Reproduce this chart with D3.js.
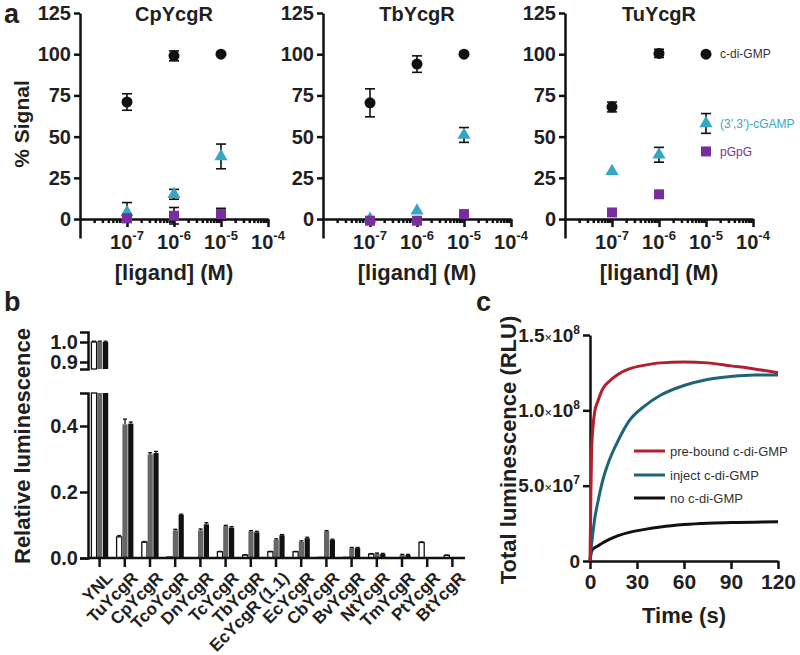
<!DOCTYPE html>
<html>
<head>
<meta charset="utf-8">
<script src="https://cdn.jsdelivr.net/npm/d3@7"></script>
<style>
  body { margin: 0; background: #fff; }
  svg text { font-family: "Liberation Sans", Arial, sans-serif; fill: #231f20; }
  .axis path, .axis line { stroke: #111; stroke-width: 2.5; }
  .axis text { font-weight: bold; font-size: 20px; fill: #231f20; }
</style>
</head>
<body>
<div id="fig"></div>
<script>
// ---------- panel a: % signal vs ligand concentration ----------
const concs = [1e-7, 1e-6, 1e-5];
const doseTitles = ['CpYcgR', 'TbYcgR', 'TuYcgR'];
const ligandNames = ['c-di-GMP', "(3',3')-cGAMP", 'pGpG'];

const cpDiGMP = [71, 99, 100],   cpDiGMPErr = [5, 3, 0];
const cpCGAMP = [4, 15, 38],     cpCGAMPErr = [6, 3, 7.5];
const cpPGPG  = [0.5, 2, 3],     cpPGPGErr  = [2, 5, 3.5];

const tbDiGMP = [70.5, 94, 100], tbDiGMPErr = [8.5, 5, 0];
const tbCGAMP = [0, 5, 51],      tbCGAMPErr = [0, 0, 4.5];
const tbPGPG  = [-1, -1, 3],     tbPGPGErr  = [0, 0, 0];

const tuDiGMP = [68, 100.5, 100], tuDiGMPErr = [3, 2.5, 0];
const tuCGAMP = [29, 39, 58],     tuCGAMPErr = [0, 4.5, 6];
const tuPGPG  = [4, 15, 41],      tuPGPGErr  = [0, 0, 0];

const signalTicks = [0, 25, 50, 75, 100, 125];
const decadeTicks = [1e-7, 1e-6, 1e-5, 1e-4];

// ---------- panel b: relative luminescence ----------
const strains = ['YNL', 'TuYcgR', 'CpYcgR', 'TcoYcgR', 'DnYcgR', 'TcYcgR', 'TbYcgR',
  'EcYcgR (1.1)', 'EcYcgR', 'CbYcgR', 'BvYcgR', 'NtYcgR', 'TmYcgR', 'PtYcgR', 'BtYcgR'];
const lumWhite = [1.0, 0.064, 0.048, 0.003, 0, 0.019, 0.009, 0.019, 0.019, 0.002, 0.002, 0.012, 0, 0.047, 0.008];
const lumGray  = [1.0, 0.405, 0.314, 0.084, 0.084, 0.097, 0.081, 0.055, 0.049, 0.081, 0.030, 0.013, 0.009, 0.001, 0];
const lumBlack = [1.0, 0.407, 0.318, 0.131, 0.102, 0.092, 0.078, 0.069, 0.060, 0.055, 0.030, 0.012, 0.009, 0.001, 0];
const errWhite = [0.004, 0.004, 0.002, 0, 0, 0.001, 0.001, 0.001, 0.001, 0, 0, 0.001, 0, 0.002, 0.001];
const errGray  = [0.004, 0.016, 0.005, 0.003, 0.004, 0.002, 0.002, 0.003, 0.003, 0.002, 0.002, 0.002, 0.002, 0, 0];
const errBlack = [0.004, 0.005, 0.005, 0.002, 0.005, 0.003, 0.003, 0.002, 0.003, 0.002, 0.002, 0.002, 0.002, 0, 0];
const lowTicks = [0, 0.2, 0.4];
const highTicks = [0.9, 1.0];

// ---------- panel c: luminescence time course ----------
const timeS      = [0, 0.5, 1, 2, 3, 5, 8, 12, 18, 25, 35, 45, 60, 75, 90, 105, 120];
const preBound   = [0, 4.0e7, 7.2e7, 9.0e7, 9.9e7, 1.06e8, 1.14e8, 1.19e8, 1.24e8, 1.275e8, 1.30e8, 1.315e8, 1.32e8, 1.315e8, 1.295e8, 1.275e8, 1.25e8];
const injectCdg  = [0, 6e6, 1.1e7, 2.0e7, 2.8e7, 3.9e7, 5.3e7, 6.6e7, 8.0e7, 9.3e7, 1.03e8, 1.10e8, 1.165e8, 1.205e8, 1.225e8, 1.235e8, 1.235e8];
const noCdg      = [0, 4e6, 6.5e6, 8e6, 8.8e6, 1.0e7, 1.2e7, 1.42e7, 1.68e7, 1.9e7, 2.1e7, 2.26e7, 2.42e7, 2.51e7, 2.55e7, 2.58e7, 2.6e7];
const timeTicks  = [0, 30, 60, 90, 120];
const lumTicks   = [0, 5e7, 1e8, 1.5e8];
const traceNames = ['pre-bound c-di-GMP', 'inject c-di-GMP', 'no c-di-GMP'];

const colDi = '#111', colCg = '#36a7c3', colPg = '#7a2e9e';
const colPre = '#b1202f', colInj = '#1e6478', colNo = '#111';

const svg = d3.select('#fig').append('svg')
  .attr('width', 800).attr('height', 655)
  .style('background', '#fff');

function panelLetter(x, y, s) {
  svg.append('text').attr('x', x).attr('y', y)
    .style('font-size', '27px').style('font-weight', 'bold').text(s);
}
panelLetter(4, 23, 'a');
panelLetter(4, 311, 'b');
panelLetter(476, 311, 'c');

// ---------- draw panel a ----------
function doseChart(x0, title, series) {
  const x = d3.scaleLog().domain([1e-8, 1e-4]).range([x0, x0 + 188]);
  const y = d3.scaleLinear().domain([-11.5, 125]).range([238, 13]);
  const g = svg.append('g');

  g.append('g').attr('class', 'axis')
    .attr('transform', `translate(${x0},0)`)
    .call(d3.axisLeft(y).tickValues(signalTicks).tickSize(6).tickPadding(3).tickSizeOuter(0));

  const minor = [];
  [1e-8, 1e-7, 1e-6, 1e-5].forEach(d => { for (let k = 2; k <= 9; k++) minor.push(d * k); });
  const y0 = y(0);
  g.append('g').attr('class', 'axis')
    .attr('transform', `translate(0,${y0})`)
    .call(d3.axisBottom(x).tickValues(minor).tickSize(4).tickFormat('').tickSizeOuter(0));
  const major = g.append('g').attr('class', 'axis')
    .attr('transform', `translate(0,${y0})`)
    .call(d3.axisBottom(x).tickValues(decadeTicks).tickSize(8).tickFormat('').tickSizeOuter(0));
  major.select('.domain').remove();

  decadeTicks.forEach(d => {
    const t = g.append('text').attr('x', x(d)).attr('y', 249)
      .attr('text-anchor', 'middle').style('font-weight', 'bold').style('font-size', '20px');
    t.append('tspan').text('10');
    t.append('tspan').attr('dy', -9).style('font-size', '13px').text('-' + Math.round(-Math.log10(d)));
  });

  g.append('text').attr('x', x0 + 94).attr('y', 280).attr('text-anchor', 'middle')
    .style('font-weight', 'bold').style('font-size', '22px').text('[ligand] (M)');
  g.append('text').attr('x', x0 + 94).attr('y', 21).attr('text-anchor', 'middle')
    .style('font-weight', 'bold').style('font-size', '20px').text(title);

  series.forEach(s => {
    concs.forEach((c, i) => {
      const cx = x(c), cy = y(s.vals[i]), e = s.errs[i];
      if (e > 0) {
        const eg = g.append('g').attr('stroke', '#111').attr('stroke-width', 1.6);
        eg.append('line').attr('x1', cx).attr('x2', cx).attr('y1', y(s.vals[i] + e)).attr('y2', y(s.vals[i] - e));
        eg.append('line').attr('x1', cx - 5).attr('x2', cx + 5).attr('y1', y(s.vals[i] + e)).attr('y2', y(s.vals[i] + e));
        eg.append('line').attr('x1', cx - 5).attr('x2', cx + 5).attr('y1', y(s.vals[i] - e)).attr('y2', y(s.vals[i] - e));
      }
      g.append('path')
        .attr('d', d3.symbol().type(s.shape).size(s.size)())
        .attr('transform', `translate(${cx},${cy})`)
        .attr('fill', s.color);
    });
  });
  return { x, y };
}

function mk(di, diE, cg, cgE, pg, pgE) {
  return [
    { name: ligandNames[1], vals: cg, errs: cgE, shape: d3.symbolTriangle, size: 75, color: colCg, label: colCg },
    { name: ligandNames[2], vals: pg, errs: pgE, shape: d3.symbolSquare, size: 100, color: colPg, label: colPg },
    { name: ligandNames[0], vals: di, errs: diE, shape: d3.symbolCircle, size: 95, color: colDi, label: '#333' }
  ];
}

doseChart(80, doseTitles[0], mk(cpDiGMP, cpDiGMPErr, cpCGAMP, cpCGAMPErr, cpPGPG, cpPGPGErr));
doseChart(323, doseTitles[1], mk(tbDiGMP, tbDiGMPErr, tbCGAMP, tbCGAMPErr, tbPGPG, tbPGPGErr));
const tuSeries = mk(tuDiGMP, tuDiGMPErr, tuCGAMP, tuCGAMPErr, tuPGPG, tuPGPGErr);
const tuScales = doseChart(565, doseTitles[2], tuSeries);
// in this panel the 10^-5 points carry the ligand names
tuSeries.forEach(d => {
  svg.append('text').attr('x', tuScales.x(concs[2]) + 14).attr('y', tuScales.y(d.vals[2]))
    .attr('dy', '0.35em').style('font-size', '12px').style('fill', d.label)
    .text(d.name);
});

svg.append('text').attr('transform', 'translate(29,124) rotate(-90)')
  .attr('text-anchor', 'middle').style('font-weight', 'bold').style('font-size', '21px')
  .text('% Signal');

// ---------- draw panel b ----------
(function () {
  const x = d3.scaleBand().domain(strains).range([87, 465]);
  const yLow = d3.scaleLinear().domain([0, 0.5]).range([558, 393]);
  const yHigh = d3.scaleLinear().domain([0.865, 1.05]).range([369, 332]);
  const inner = d3.scaleBand().domain(['w', 'g', 'k']).range([0, 17.4]);
  const fills = { w: '#fff', g: '#666', k: '#111' };
  const g = svg.append('g');

  const rows = strains.map((s, i) => ({
    s, parts: [
      { k: 'w', v: lumWhite[i], e: errWhite[i] },
      { k: 'g', v: lumGray[i], e: errGray[i] },
      { k: 'k', v: lumBlack[i], e: errBlack[i] }
    ]
  }));

  rows.forEach(r => {
    const gx = x(r.s) + x.bandwidth() / 2 - 8.7;
    r.parts.forEach(p => {
      const bx = gx + inner(p.k) + 0.5, bw = inner.bandwidth() - 0.6;
      const stroke = p.k === 'w' ? '#111' : 'none';
      let top, etop;
      if (p.v > 0.5) {
        g.append('rect').attr('x', bx).attr('width', bw)
          .attr('y', yLow(0.5)).attr('height', yLow(0) - yLow(0.5))
          .attr('fill', fills[p.k]).attr('stroke', stroke).attr('stroke-width', 1.3);
        g.append('rect').attr('x', bx).attr('width', bw)
          .attr('y', yHigh(p.v)).attr('height', yHigh(0.865) - yHigh(p.v))
          .attr('fill', fills[p.k]).attr('stroke', stroke).attr('stroke-width', 1.3);
        top = yHigh(p.v); etop = yHigh(p.v + p.e);
      } else {
        if (p.v <= 0) return;
        g.append('rect').attr('x', bx).attr('width', bw)
          .attr('y', yLow(p.v)).attr('height', yLow(0) - yLow(p.v))
          .attr('fill', fills[p.k]).attr('stroke', stroke).attr('stroke-width', 1.3);
        top = yLow(p.v); etop = yLow(p.v + p.e);
      }
      if (p.e > 0) {
        const cx = bx + bw / 2;
        g.append('line').attr('x1', cx).attr('x2', cx).attr('y1', top).attr('y2', etop)
          .attr('stroke', '#111').attr('stroke-width', 1.3);
        g.append('line').attr('x1', cx - 2).attr('x2', cx + 2).attr('y1', etop).attr('y2', etop)
          .attr('stroke', '#111').attr('stroke-width', 1.3);
      }
    });
  });

  g.append('g').attr('class', 'axis').attr('transform', 'translate(88,0)')
    .call(d3.axisLeft(yLow).tickValues(lowTicks).tickFormat(d3.format('.1f')).tickSize(8).tickPadding(2).tickSizeOuter(8));
  g.append('g').attr('class', 'axis').attr('transform', 'translate(88,0)')
    .call(d3.axisLeft(yHigh).tickValues(highTicks).tickFormat(d3.format('.1f')).tickSize(8).tickPadding(2).tickSizeOuter(8));

  const xa = g.append('g').attr('class', 'axis').attr('transform', 'translate(0,558)')
    .call(d3.axisBottom(x).tickSize(9).tickSizeOuter(0).tickFormat(''));
  xa.select('.domain').attr('d', 'M88,0H465');

  strains.forEach(s => {
    g.append('text')
      .attr('transform', `translate(${x(s) + x.bandwidth() / 2 + 5},570) rotate(-45)`)
      .attr('text-anchor', 'end').attr('dy', '0.75em')
      .style('font-weight', 'bold').style('font-size', '17px').text(s);
  });

  svg.append('text').attr('transform', 'translate(30,446) rotate(-90)')
    .attr('text-anchor', 'middle').style('font-weight', 'bold').style('font-size', '22px')
    .text('Relative luminescence');
})();

// ---------- draw panel c ----------
(function () {
  const x = d3.scaleLinear().domain([0, 120]).range([590, 778]);
  const y = d3.scaleLinear().domain([0, 1.5e8]).range([561, 335]);
  const g = svg.append('g');

  g.append('g').attr('class', 'axis').attr('transform', 'translate(590,0)')
    .call(d3.axisLeft(y).tickValues(lumTicks).tickSize(7).tickPadding(4).tickSizeOuter(0).tickFormat(''));
  lumTicks.forEach(v => {
    const t = g.append('text').attr('x', 580).attr('y', y(v)).attr('dy', '0.35em')
      .attr('text-anchor', 'end').style('font-weight', 'bold').style('font-size', '19px');
    if (v === 0) { t.text('0'); return; }
    const ex = Math.floor(Math.log10(v));
    t.append('tspan').text((v / Math.pow(10, ex)).toFixed(1));
    t.append('tspan').style('font-weight', 'normal').style('font-size', '13px').text('\u00d7');
    t.append('tspan').text('10');
    t.append('tspan').attr('dy', -8).style('font-size', '12px').text(ex);
  });

  g.append('g').attr('class', 'axis').attr('transform', 'translate(0,561)')
    .call(d3.axisBottom(x).tickValues(timeTicks).tickSize(8).tickPadding(5).tickSizeOuter(0))
    .selectAll('text').style('font-size', '21px');

  const line = d3.line().x((d, i) => x(timeS[i])).y(d => y(d)).curve(d3.curveMonotoneX);
  [[noCdg, colNo], [injectCdg, colInj], [preBound, colPre]].forEach(([vals, c]) => {
    g.append('path').attr('d', line(vals)).attr('fill', 'none')
      .attr('stroke', c).attr('stroke-width', 3);
  });

  [[colPre, 451], [colInj, 475], [colNo, 498]].forEach(([c, ly], i) => {
    g.append('line').attr('x1', 634).attr('x2', 665).attr('y1', ly).attr('y2', ly)
      .attr('stroke', c).attr('stroke-width', 3);
    g.append('text').attr('x', 670).attr('y', ly).attr('dy', '0.35em')
      .style('font-size', '13px').style('fill', '#333').text(traceNames[i]);
  });

  g.append('text').attr('x', 684).attr('y', 623).attr('text-anchor', 'middle')
    .style('font-weight', 'bold').style('font-size', '22px').text('Time (s)');
  svg.append('text').attr('transform', 'translate(516,450) rotate(-90)')
    .attr('text-anchor', 'middle').style('font-weight', 'bold').style('font-size', '22px')
    .text('Total luminescence (RLU)');
})();
</script>
</body>
</html>
